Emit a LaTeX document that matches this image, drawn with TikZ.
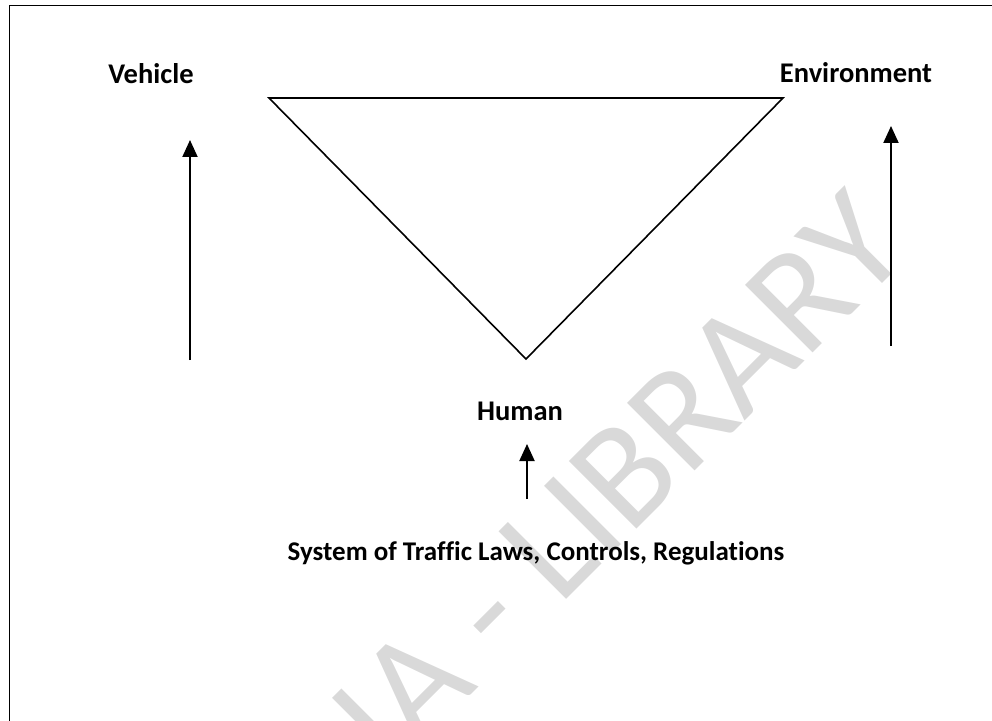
\documentclass[tikz,border=0pt]{standalone}
\usepackage{fontspec}
\setmainfont{Carlito}[Ligatures=NoCommon, RawFeature=-liga]
\usetikzlibrary{arrows.meta}
\definecolor{wmgray}{HTML}{D9D9D9}
\tikzset{
  lbl/.style={font=\bfseries\fontsize{28.5bp}{34bp}\selectfont, inner sep=0pt},
  lblsmall/.style={font=\bfseries\fontsize{27bp}{32bp}\selectfont, inner sep=0pt},
  uparrow/.style={line width=2bp, -{Triangle[length=17bp,width=15bp]}},
  tri/.style={line width=1.6bp, line join=miter},
  frameline/.style={line width=1.8bp},
  wm/.style={font=\fontsize{149bp}{170bp}\selectfont, text=wmgray, rotate=45, inner sep=0pt}
}
\begin{document}
\begin{tikzpicture}[x=1bp,y=-1bp]
\useasboundingbox (0,0) rectangle (992,721);
\clip (0,0) rectangle (992,721);
% watermark
\node[wm, anchor=base] (wmark) at (652,514) {IA - LIBRARY};
% frame (top and left edges)
\draw[frameline] (9.5,721) -- (9.5,5.5) -- (992,5.5);
% triangle
\coordinate (tl) at (269,98);
\coordinate (tr) at (783,98);
\coordinate (tb) at (526,359);
\draw[tri] (tl) -- (tr) -- (tb) -- cycle;
% labels
\node[lbl] (vehicle) at (151,74) {Vehicle};
\node[lbl] (env) at (856,73) {Environment};
\node[lbl] (human) at (520,411) {Human};
\node[lblsmall] (system) at (536,553) {System of Traffic Laws, Controls, Regulations};
% arrows
\coordinate (va) at (190,360);
\coordinate (vb) at (190,140);
\coordinate (ea) at (891,346);
\coordinate (eb) at (891,126);
\coordinate (ha) at (527,499);
\coordinate (hb) at (527,444);
\draw[uparrow] (va) -- (vb);
\draw[uparrow] (ea) -- (eb);
\draw[uparrow] (ha) -- (hb);
\end{tikzpicture}
\end{document}
